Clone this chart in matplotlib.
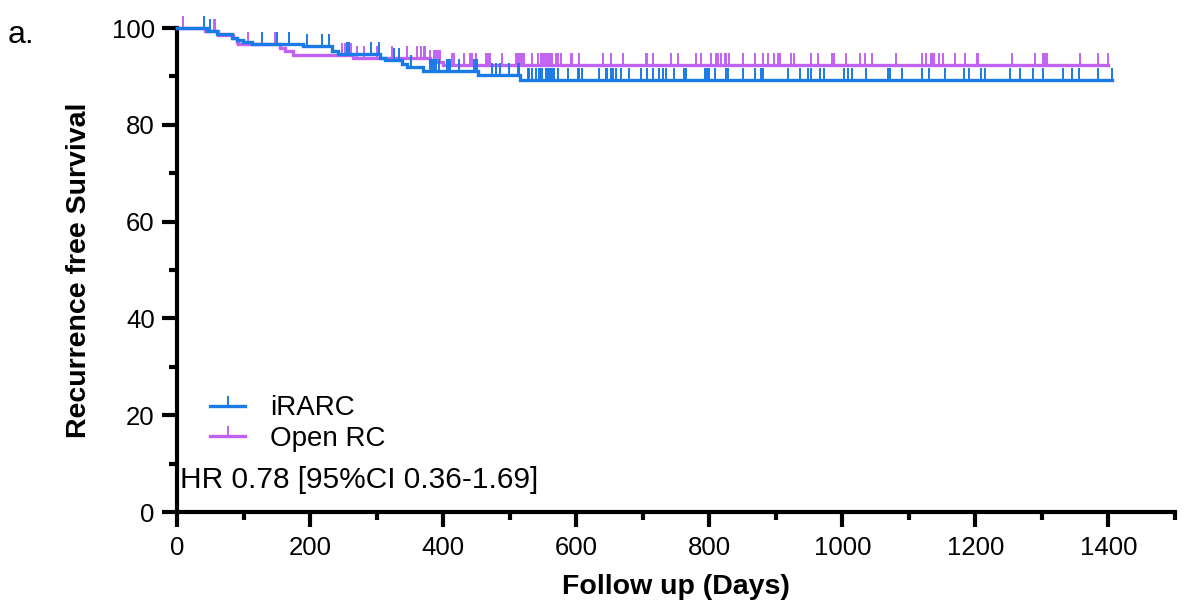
import numpy as np
import matplotlib
matplotlib.use("Agg")
import matplotlib.pyplot as plt
from matplotlib.path import Path
from matplotlib.lines import Line2D
from matplotlib.ticker import FixedLocator

plt.rcParams['font.family'] = ['Liberation Sans', 'DejaVu Sans']

# ---------------- data ----------------
group_names = ["iRARC", "Open RC"]

irarc_event_days = [45, 60, 82, 90, 99, 112, 190, 233, 242, 305, 313, 338, 345, 370, 453, 516]
irarc_surv = [99.4, 98.7, 98.0, 97.5, 97.1, 96.7, 96.2, 95.3, 94.6, 93.9, 93.3, 92.6, 91.9, 91.2, 90.2, 89.3]
irarc_end_day = 1405
irarc_censor_days = [40, 50, 128, 150, 169, 195, 218, 228, 256, 258, 291, 303, 326, 333, 351,
                     381, 384, 386, 390, 394, 406, 409, 411, 424, 446, 449, 451, 474, 479, 486,
                     499, 512, 514, 527, 529, 534, 539, 544, 547, 549, 554, 557, 559, 562, 564,
                     567, 572, 587, 602, 604, 609, 634, 645, 647, 652, 655, 660, 667, 680, 697,
                     707, 715, 725, 730, 735, 747, 762, 765, 793, 795, 798, 800, 808, 825, 828,
                     850, 868, 878, 881, 918, 936, 948, 953, 966, 973, 1003, 1009, 1014, 1036,
                     1069, 1071, 1089, 1119, 1131, 1154, 1183, 1190, 1209, 1214, 1252, 1267,
                     1287, 1302, 1331, 1345, 1356, 1384, 1405]

open_event_days = [42, 62, 84, 90, 92, 155, 162, 175, 265, 380, 400]
open_surv = [99.3, 98.6, 97.9, 97.2, 96.6, 95.9, 95.2, 94.5, 93.7, 92.9, 92.3]
open_end_day = 1399
open_censor_days = [9, 55, 57, 107, 148, 248, 253, 261, 271, 281, 301, 323, 346, 361, 366, 371,
                    373, 381, 386, 390, 393, 396, 414, 416, 431, 441, 444, 449, 464, 466, 469,
                    471, 489, 509, 512, 514, 517, 519, 522, 534, 542, 547, 549, 552, 554, 557,
                    559, 562, 564, 569, 572, 577, 592, 594, 604, 640, 652, 670, 705, 707, 715,
                    743, 753, 780, 788, 803, 810, 813, 818, 823, 825, 830, 850, 868, 881, 888,
                    898, 903, 906, 923, 928, 953, 963, 985, 988, 1006, 1026, 1034, 1044, 1081,
                    1120, 1126, 1133, 1135, 1138, 1146, 1152, 1169, 1184, 1202, 1204, 1255,
                    1289, 1302, 1305, 1307, 1357, 1384, 1399]

hr_text = "HR 0.78 [95%CI 0.36-1.69]"
x_ticks = [0, 200, 400, 600, 800, 1000, 1200, 1400]
y_ticks = [0, 20, 40, 60, 80, 100]

colors = {"iRARC": "#1A7AE8", "Open RC": "#C262F2"}

# ---------------- figure ----------------
fig = plt.figure(figsize=(11.92, 6.08), dpi=100)
ax = fig.add_axes([177 / 1192, 96 / 608, 998 / 1192, 484 / 608])

tick_marker = Path([(0, 0), (0, 1)], [Path.MOVETO, Path.LINETO])


def draw_km(days, surv, end_day, censor_days, color, z):
    xs = [0] + list(days) + [end_day]
    ys = [100] + list(surv) + [surv[-1]]
    ax.step(xs, ys, where="post", color=color, lw=2.4, clip_on=False, zorder=z,
            solid_joinstyle="miter")
    levels = np.r_[100, surv]
    idx = np.searchsorted(days, censor_days, side="right")
    ax.plot(censor_days, levels[idx], linestyle="none", marker=tick_marker,
            markersize=17, markeredgewidth=1.4, color=color, clip_on=False, zorder=z)


draw_km(open_event_days, open_surv, open_end_day, open_censor_days, colors["Open RC"], 3)
draw_km(irarc_event_days, irarc_surv, irarc_end_day, irarc_censor_days, colors["iRARC"], 4)

ax.set_xlim(0, 1500)
ax.set_ylim(0, 100)
ax.xaxis.set_major_locator(FixedLocator(x_ticks))
ax.xaxis.set_minor_locator(FixedLocator(np.arange(100, 1501, 200)))
ax.yaxis.set_major_locator(FixedLocator(y_ticks))
ax.yaxis.set_minor_locator(FixedLocator(np.arange(10, 100, 20)))

for s in ["top", "right"]:
    ax.spines[s].set_visible(False)
for s in ["left", "bottom"]:
    ax.spines[s].set_linewidth(3.0)
    ax.spines[s].set_capstyle("projecting")

ax.tick_params(which="major", length=11, width=3.0, labelsize=18.5, color="black")
ax.tick_params(which="minor", length=6, width=3.0)
ax.tick_params(axis="x", which="major", pad=6.5)
ax.tick_params(axis="y", which="major", pad=5)

ax.set_xlabel("Follow up (Days)", fontsize=20.5, fontweight="bold", labelpad=10)
ax.set_ylabel("Recurrence free Survival", fontsize=20.5, fontweight="bold", labelpad=14)

handles = [Line2D([], [], color=colors[g], lw=2.4, marker=tick_marker, markersize=14,
                  markeredgewidth=1.4) for g in group_names]
leg = ax.legend(handles, group_names, loc="lower left", bbox_to_anchor=(0.022, 0.102),
                frameon=False, fontsize=20, handlelength=1.26, handletextpad=0.9,
                labelspacing=0.15, numpoints=1, borderaxespad=0)

ax.text(0.003, 0.066, hr_text, transform=ax.transAxes, fontsize=21.5, va="center", ha="left")

fig.text(0.006, 1 - 43 / 608, "a.", fontsize=23, va="baseline", ha="left")

fig.savefig("out.png", dpi=100)
